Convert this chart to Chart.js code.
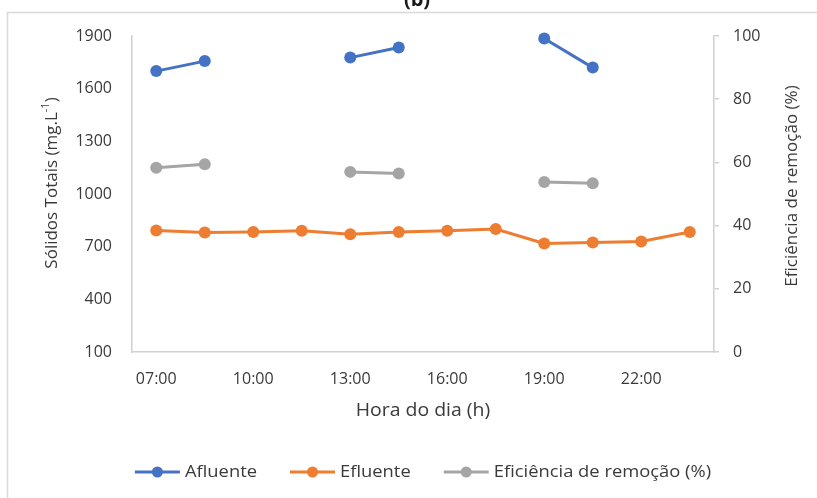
<!DOCTYPE html>
<html>
<head>
<meta charset="utf-8">
<script src="https://cdn.jsdelivr.net/npm/chart.js@4.4.1/dist/chart.umd.min.js"></script>
<style>
  html, body { margin: 0; padding: 0; background: #ffffff; }
  #wrap { width: 817px; height: 498px; position: relative; }
</style>
</head>
<body>
<div id="wrap"><canvas id="chart" width="817" height="498"></canvas></div>
<script>
// Sampling times (every 1.5 h)
const horas = ['07:00', '08:30', '10:00', '11:30', '13:00', '14:30', '16:00', '17:30', '19:00', '20:30', '22:00', '23:30'];
// Sólidos totais (mg/L)
const afluente = [1700, 1757, null, null, 1777, 1835, null, null, 1886, 1720, null, null];
const efluente = [792, 781, 784, 791, 771, 784, 791, 800, 718, 724, 730, 783];
// Eficiência de remoção (%)
const eficiencia = [58.3, 59.4, null, null, 57.0, 56.5, null, null, 53.8, 53.4, null, null];
// Axis ticks
const ticksSolidos = [100, 400, 700, 1000, 1300, 1600, 1900];
const ticksEficiencia = [0, 20, 40, 60, 80, 100];

const FONT = '"Open Sans", Lato, sans-serif';
const TEXT = '#3a3a3a';
const AXIS = '#d0d0d0';
const WIDE = 1.08; // slight horizontal stretch for horizontal captions
const colors = { afl: '#4472C4', efl: '#ED7D31', efi: '#A5A5A5' };

const seriesList = [
  { label: 'Afluente', data: afluente, color: colors.afl, axis: 'y' },
  { label: 'Efluente', data: efluente, color: colors.efl, axis: 'y' },
  { label: 'Eficiência de remoção (%)', data: eficiencia, color: colors.efi, axis: 'y1' }
];

function wideText(ctx, text, x, y, align) {
  const w = ctx.measureText(text).width * WIDE;
  const left = align === 'center' ? x - w / 2 : x;
  ctx.save();
  ctx.translate(left, y);
  ctx.scale(WIDE, 1);
  ctx.textAlign = 'left';
  ctx.fillText(text, 0, 0);
  ctx.restore();
  return w;
}

const decorations = {
  id: 'decorations',
  afterDraw(chart) {
    const ctx = chart.ctx;
    const area = chart.chartArea;
    ctx.save();
    // outer frame
    ctx.strokeStyle = '#d9d9d9';
    ctx.lineWidth = 1.5;
    ctx.strokeRect(7.5, 12.5, 830, 500);

    // panel title, partly above the frame
    ctx.fillStyle = '#1a1a1a';
    ctx.font = 'bold 20px ' + FONT;
    ctx.textAlign = 'center';
    ctx.textBaseline = 'alphabetic';
    ctx.fillText('(b)', 417, 6);

    // x axis title
    ctx.fillStyle = TEXT;
    ctx.font = '18px ' + FONT;
    ctx.textBaseline = 'middle';
    wideText(ctx, 'Hora do dia (h)', (area.left + area.right) / 2, 411, 'center');

    // left axis title with superscript
    ctx.save();
    ctx.translate(52, 183);
    ctx.rotate(-Math.PI / 2);
    const main = 'Sólidos Totais (mg.L';
    const sup = '-1';
    const tail = ')';
    ctx.font = '17px ' + FONT;
    const wMain = ctx.measureText(main).width;
    const wTail = ctx.measureText(tail).width;
    ctx.font = '11px ' + FONT;
    const wSup = ctx.measureText(sup).width;
    let x = -(wMain + wSup + wTail) / 2;
    ctx.textAlign = 'left';
    ctx.font = '17px ' + FONT;
    ctx.fillText(main, x, 0);
    x += wMain;
    ctx.font = '11px ' + FONT;
    ctx.fillText(sup, x, -6);
    x += wSup;
    ctx.font = '17px ' + FONT;
    ctx.fillText(tail, x, 0);
    ctx.restore();

    // right axis title
    ctx.save();
    ctx.translate(792, 186);
    ctx.rotate(-Math.PI / 2);
    ctx.font = '17px ' + FONT;
    ctx.textAlign = 'center';
    ctx.fillText('Eficiência de remoção (%)', 0, 0);
    ctx.restore();

    // legend
    ctx.font = '17px ' + FONT;
    ctx.textBaseline = 'middle';
    const markW = 45, gapText = 5, gapItem = 33, ly = 472;
    const widths = chart.data.datasets.map(d => markW + gapText + ctx.measureText(d.label).width * WIDE);
    const total = widths.reduce((a, b) => a + b, 0) + gapItem * (widths.length - 1);
    let lx = 423 - total / 2;
    chart.data.datasets.forEach((d, i) => {
      ctx.strokeStyle = d.borderColor;
      ctx.lineWidth = 3;
      ctx.beginPath();
      ctx.moveTo(lx, ly);
      ctx.lineTo(lx + markW, ly);
      ctx.stroke();
      ctx.fillStyle = d.borderColor;
      ctx.beginPath();
      ctx.arc(lx + markW / 2, ly, 5.5, 0, Math.PI * 2);
      ctx.fill();
      ctx.fillStyle = TEXT;
      wideText(ctx, d.label, lx + markW + gapText, ly, 'left');
      lx += widths[i] + gapItem;
    });
    ctx.restore();
  }
};

new Chart(document.getElementById('chart'), {
  type: 'line',
  data: {
    labels: horas,
    datasets: seriesList.map(s => ({
      label: s.label,
      data: s.data,
      yAxisID: s.axis,
      borderColor: s.color,
      backgroundColor: s.color,
      borderWidth: 3,
      pointRadius: 6,
      pointHoverRadius: 6,
      pointBorderWidth: 0,
      spanGaps: false,
      tension: 0,
      clip: false
    }))
  },
  options: {
    responsive: false,
    animation: false,
    layout: { padding: { top: 36, left: 0, right: 0, bottom: 0 } },
    plugins: { legend: { display: false }, tooltip: { enabled: false }, title: { display: false } },
    scales: {
      x: {
        offset: true,
        grid: { display: false, drawTicks: false },
        border: { display: true, color: AXIS, width: 1.5 },
        ticks: {
          autoSkip: false, maxRotation: 0, padding: 18,
          color: TEXT, font: { family: FONT, size: 16 },
          callback: (v, i) => (i % 2 === 0 ? horas[i] : '')
        },
        afterFit: s => { s.height = 146; }
      },
      y: {
        position: 'left',
        min: 100, max: 1900,
        grid: { display: false, drawTicks: false },
        border: { display: true, color: AXIS, width: 1.5 },
        ticks: { padding: 20, color: TEXT, font: { family: FONT, size: 16 }, callback: v => String(v) },
        afterBuildTicks: s => { s.ticks = ticksSolidos.map(v => ({ value: v })); },
        afterFit: s => { s.width = 132; }
      },
      y1: {
        position: 'right',
        min: 0, max: 100,
        grid: { drawOnChartArea: false, drawTicks: true, tickLength: 5, color: AXIS, lineWidth: 1.5 },
        border: { display: true, color: AXIS, width: 1.5 },
        ticks: { padding: 14, color: TEXT, font: { family: FONT, size: 16 }, callback: v => String(v) },
        afterBuildTicks: s => { s.ticks = ticksEficiencia.map(v => ({ value: v })); },
        afterFit: s => { s.width = 103; }
      }
    }
  },
  plugins: [decorations]
});
</script>
</body>
</html>
